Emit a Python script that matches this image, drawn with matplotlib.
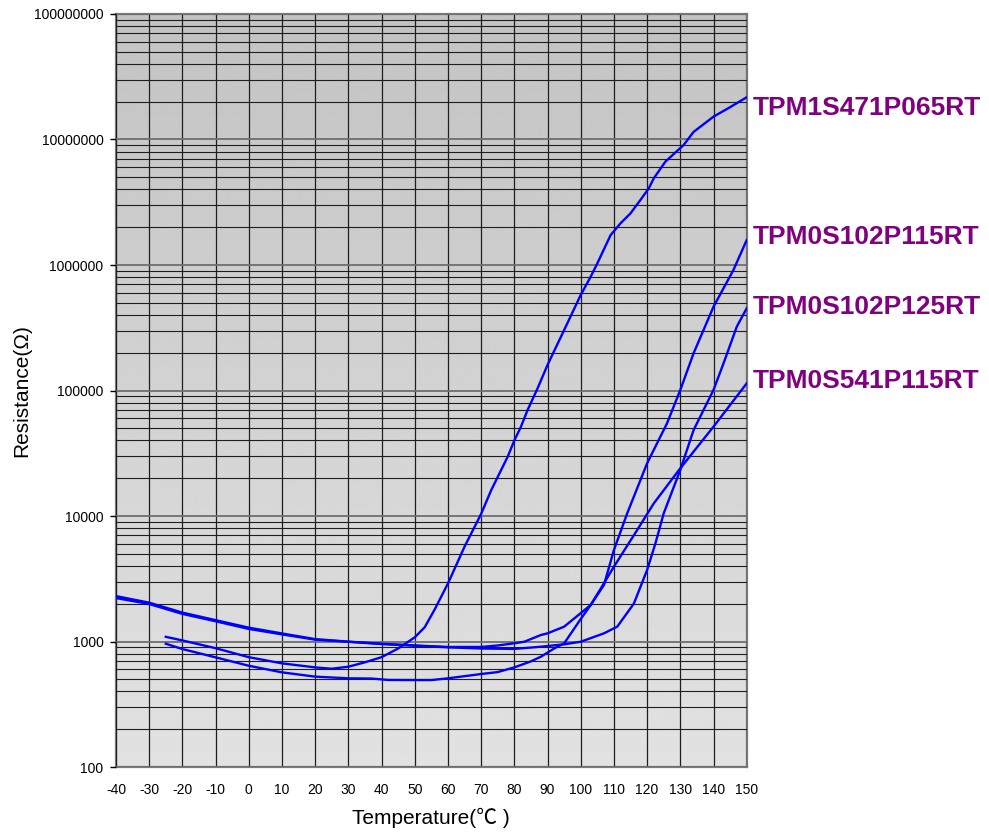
"""
PTC thermistor R-T curves (TPM series) on a log resistance axis.
Values read off the datasheet chart.
"""

import numpy as np
import matplotlib
matplotlib.use("Agg")
import matplotlib.pyplot as plt
import matplotlib.ticker as mticker

plt.rcParams["font.family"] = ["Liberation Sans", "Noto Sans CJK SC", "DejaVu Sans"]

# ── Palette ────────────────────────────────────────────────────────────────
LINE_BLUE  = "#0000FF"
LABEL_PURP = "#800080"
GRID_DARK  = "#1E1E1E"
GRID_GREY  = "#6E6E6E"
SPINE_GREY = "#7A7A7A"

# ── Data ────────────────────────────────────────────────────────────────────
t_1s471 = [-25, -20, -10, 0, 10, 20, 25, 30, 35, 40, 45, 50, 53, 56, 60, 65, 70,
           73, 78, 80, 82, 84, 87, 90, 95, 100, 103, 105, 109, 112, 115, 118,
           120.5, 122, 125.5, 131, 134, 140, 145, 150]
r_1s471 = [1090, 1020, 885, 750, 670, 622, 607, 630, 683, 750, 880, 1080, 1300,
           1800, 2900, 5700, 10400, 16000, 29700, 40000, 51500, 70000, 104000,
           160000, 303000, 577000, 807000, 1030000, 1730000, 2150000, 2580000,
           3300000, 4080000, 4900000, 6660000, 9040000, 11500000, 15200000,
           18100000, 21700000]

t_102p115 = [-25, -20, -10, 0, 10, 20, 30, 37, 42, 50, 55, 60, 70, 75, 80, 85,
             88, 92, 95, 100, 103, 107, 110, 114, 120, 126, 130, 134, 140, 146, 150]
r_102p115 = [960, 871, 748, 641, 568, 525, 509, 507, 494, 493, 493, 509, 551,
             571, 622, 695, 757, 880, 966, 1510, 1954, 2820, 5360, 10500, 26300,
             54800, 101000, 198000, 465000, 912000, 1580000]

t_102p125 = [-40, -30, -20, -10, 0, 10, 20, 30, 40, 50, 60, 70, 80, 88, 95, 100,
             107, 111, 116, 120, 122.5, 125, 130, 134, 140, 143, 147, 150]
r_102p125 = [2220, 1990, 1660, 1450, 1260, 1140, 1035, 995, 955, 926, 899, 880,
             873, 909, 950, 996, 1162, 1313, 2004, 3715, 6050, 10500, 23300,
             48400, 101000, 164000, 322000, 452000]

t_541p115 = [-40, -30, -20, -10, 0, 10, 20, 30, 40, 50, 60, 70, 75, 80, 83, 88,
             90, 95, 100, 103, 107, 110, 117, 122, 130, 140, 150]
r_541p115 = [2300, 2040, 1700, 1480, 1290, 1160, 1045, 998, 960, 930, 905, 905,
             930, 968, 996, 1127, 1162, 1313, 1683, 1954, 2912, 3946, 7730,
             12600, 24000, 51500, 114000]

part_names = ["TPM1S471P065RT", "TPM0S102P115RT", "TPM0S102P125RT", "TPM0S541P115RT"]
label_r    = [1.78e7, 1.67e6, 4.62e5, 1.19e5]   # where each name sits at the right
x_ticks    = list(range(-40, 151, 10))
y_ticks    = [1e2, 1e3, 1e4, 1e5, 1e6, 1e7, 1e8]

# ── Figure ──────────────────────────────────────────────────────────────────
fig = plt.figure(figsize=(9.89, 8.33), dpi=100, facecolor="white")
ax = fig.add_axes([0.1173, 0.0792, 0.6377, 0.904])

# grey gradient paper, darker towards the top
grad = np.linspace(0.765, 0.885, 256).reshape(-1, 1)
ax.imshow(grad, cmap="gray", vmin=0, vmax=1, aspect="auto",
          extent=[0, 1, 0, 1], transform=ax.transAxes, zorder=0)

ax.set_yscale("log")
ax.set_xlim(-40, 150)
ax.set_ylim(100, 1e8)

for t, r in [(t_1s471, r_1s471), (t_102p115, r_102p115),
             (t_102p125, r_102p125), (t_541p115, r_541p115)]:
    ax.plot(t, r, color=LINE_BLUE, lw=1.7, zorder=3)

for name, r in zip(part_names, label_r):
    ax.text(151.8, r, name, color=LABEL_PURP, fontsize=19, fontweight="bold",
            va="center", ha="left", clip_on=False)

# ── Grid / axes ─────────────────────────────────────────────────────────────
ax.set_xticks(x_ticks)
ax.set_xticklabels([str(v) for v in x_ticks])
ax.set_yticks(y_ticks)
ax.yaxis.set_major_formatter(mticker.FuncFormatter(lambda v, _: f"{int(round(v))}"))
ax.yaxis.set_minor_locator(mticker.LogLocator(base=10, subs=np.arange(2, 10)))
ax.yaxis.set_minor_formatter(mticker.NullFormatter())

ax.grid(axis="x", which="major", color=GRID_DARK, lw=0.9, zorder=1)
ax.grid(axis="y", which="major", color=GRID_GREY, lw=1.3, zorder=1)
ax.grid(axis="y", which="minor", color=GRID_DARK, lw=0.8, zorder=1)
ax.set_axisbelow(False)

ax.tick_params(axis="x", length=0, pad=11.5, labelsize=10, colors="black")
ax.tick_params(axis="y", which="major", length=4, width=1, pad=5,
               labelsize=10, colors="black")
ax.tick_params(axis="y", which="minor", length=0)
for s in ax.spines.values():
    s.set_color(SPINE_GREY)
    s.set_linewidth(1.6)

ax.set_xlabel("Temperature(℃ )", fontsize=15, labelpad=8)
ax.set_ylabel("Resistance(Ω)", fontsize=15, labelpad=2)

plt.savefig("out.png", dpi=100, facecolor="white")
plt.close()
